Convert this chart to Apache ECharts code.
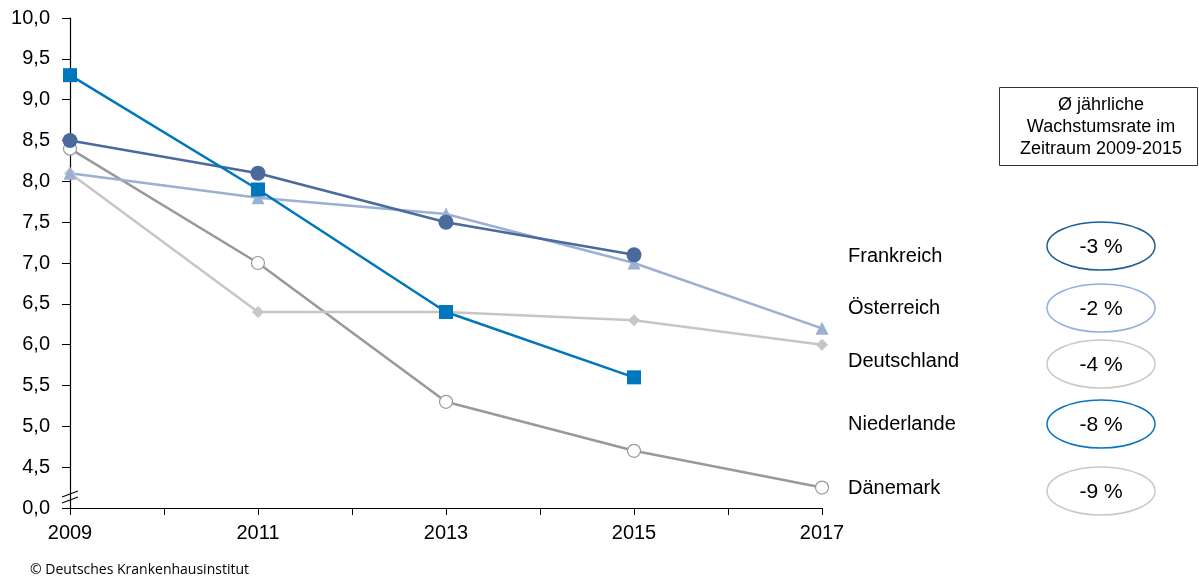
<!DOCTYPE html>
<html><head><meta charset="utf-8">
<script src="https://cdn.jsdelivr.net/npm/echarts@6/dist/echarts.min.js"></script>
<style>html,body{margin:0;padding:0;background:#fff}#c{width:1199px;height:581px}</style>
</head><body><div id="c"></div>
<script>
var years = ['2009','2010','2011','2012','2013','2014','2015','2016','2017'];
var yTicks = ['0,0','4,5','5,0','5,5','6,0','6,5','7,0','7,5','8,0','8,5','9,0','9,5','10,0'];
var niederlande = [9.3, null, 7.9, null, 6.4, null, 5.6, null, null];
var frankreich  = [8.5, null, 8.1, null, 7.5, null, 7.1, null, null];
var oesterreich = [8.1, null, 7.8, null, 7.6, null, 7.0, null, 6.2];
var deutschland = [8.1, null, 6.4, null, 6.4, null, 6.3, null, 6.0];
var daenemark   = [8.4, null, 7.0, null, 5.3, null, 4.7, null, 4.25];
var countries = ['Frankreich','Österreich','Deutschland','Niederlande','Dänemark'];
var rates = ['-3 %','-2 %','-4 %','-8 %','-9 %'];
var boxLines = ['Ø jährliche','Wachstumsrate im','Zeitraum 2009-2015'];

var chart = echarts.init(document.getElementById('c'));
var F = 'Liberation Sans, Arial, sans-serif';
function line(name, data, color, symbol, size, extra) {
  var s = {
    name: name, type: 'line', data: data, connectNulls: true,
    symbol: symbol, symbolSize: size, showSymbol: true,
    lineStyle: {color: color, width: 2.5},
    itemStyle: {color: color},
    emphasis: {disabled: true}, animation: false
  };
  if (extra) Object.assign(s, extra);
  return s;
}
var labelYs = [256, 308, 361, 424, 488];
var ellYs = [246, 308, 364, 424, 491];
var ellColors = ['#1b5e96', '#8fb0dc', '#c8c8c8', '#0a74bf', '#c8c8c8'];
var graphics = [];
countries.forEach(function(c, i){
  graphics.push({type:'text', x: 848, y: labelYs[i], style:{text:c, font:'20px '+F, fill:'#000', verticalAlign:'middle'}});
  graphics.push({type:'ellipse', shape:{cx:1101, cy:ellYs[i], rx:54, ry:24}, style:{fill:'#fff', stroke:ellColors[i], lineWidth:1.5}});
  graphics.push({type:'text', x:1101, y:ellYs[i]+1, style:{text:rates[i], font:'21px '+F, fill:'#000', align:'center', verticalAlign:'middle'}});
});
graphics.push({type:'rect', shape:{x:999.5, y:87.5, width:198, height:78}, style:{fill:'#fff', stroke:'#333', lineWidth:1}});
boxLines.forEach(function(t,i){
  graphics.push({type:'text', x:1101, y:105+i*22, style:{text:t, font:'18px '+F, fill:'#000', align:'center', verticalAlign:'middle'}});
});
graphics.push({type:'line', shape:{x1:62, y1:497, x2:78, y2:491}, style:{stroke:'#000', lineWidth:1.2}});
graphics.push({type:'line', shape:{x1:62, y1:503, x2:78, y2:497}, style:{stroke:'#000', lineWidth:1.2}});
graphics.push({type:'text', left: 30, top: 563, style:{text:'© Deutsches Krankenhausinstitut', font:'14px "Open Sans", sans-serif', fill:'#000'}});

chart.setOption({
  animation: false,
  grid: {left: 70, right: 377, top: 18, bottom: 73, containLabel: false},
  xAxis: {
    type: 'category', data: years, boundaryGap: false,
    axisLine: {lineStyle: {color: '#000', width: 1.2}},
    axisTick: {show: true, interval: 0, length: 7, lineStyle: {color: '#000'}},
    axisLabel: {interval: 1, color: '#000', fontSize: 20, fontFamily: F, margin: 15},
    splitLine: {show: false}
  },
  yAxis: {
    type: 'value', min: 4, max: 10, interval: 0.5,
    axisLine: {show: true, lineStyle: {color: '#000', width: 1.2}},
    axisTick: {show: true, length: 8, lineStyle: {color: '#000'}},
    axisLabel: {color: '#000', fontSize: 20, fontFamily: F, margin: 20,
      formatter: function(v){ var i = Math.round((v-4)/0.5); return yTicks[i]; }},
    splitLine: {show: false}
  },
  series: [
    line('Dänemark', daenemark, '#999999', 'circle', 13, {itemStyle:{color:'#fff', borderColor:'#999999', borderWidth:1.2}}),
    line('Deutschland', deutschland, '#c6c6c6', 'diamond', 12),
    line('Österreich', oesterreich, '#9bb0d2', 'triangle', 13),
    line('Frankreich', frankreich, '#4a6a9e', 'circle', 15),
    line('Niederlande', niederlande, '#0077bd', 'rect', 14)
  ],
  graphic: graphics
});
</script></body></html>
